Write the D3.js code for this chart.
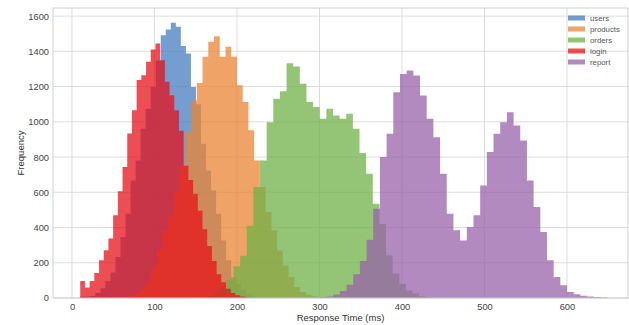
<!DOCTYPE html>
<html>
<head>
<meta charset="utf-8">
<script src="https://cdn.jsdelivr.net/npm/d3@7"></script>
<style>
  body { margin: 0; background: #fff; }
  text { font-family: "Liberation Sans", Arial, sans-serif; }
</style>
</head>
<body>
<svg id="chart" width="629" height="325"></svg>
<script>
// endpoints, in drawing order (later ones sit on top)
const endpoints = ["users", "products", "orders", "login", "report"];
const colors = ["#477cc0", "#eb8433", "#70b048", "#e6131b", "#9863ab"];

// left edge of the first bin and bin width, in ms
const binStart = [10, 61, 155.6, 10, 292.3];
const binWidth = [6.1, 6.95, 8.04, 5.7, 8.1];

// counts per bin
const usersCounts = [8, 8, 12, 30, 55, 95, 145, 233, 346, 478, 667, 781, 961, 1074, 1197, 1348,
  1492, 1524, 1562, 1540, 1430, 1388, 1198, 1100, 875, 724, 611, 478, 327, 214, 119, 80, 45, 25, 12, 6, 3, 2];
const productsCounts = [5, 10, 25, 45, 90, 170, 270, 380, 470, 600, 745, 941, 1121, 1221, 1369, 1454,
  1486, 1369, 1426, 1369, 1208, 1113, 952, 781, 630, 488, 384, 270, 185, 119, 62, 34, 18, 10, 5, 2];
const ordersCounts = [5, 12, 30, 55, 105, 180, 240, 410, 630, 781, 998, 1131, 1174, 1333, 1314, 1216,
  1112, 1084, 1017, 1074, 1036, 1017, 1046, 961, 823, 705, 535, 420, 242, 138, 81, 43, 25, 9, 4];
const loginCounts = [97, 59, 97, 142, 214, 271, 338, 470, 606, 744, 934, 1066, 1237, 1265, 1341, 1411,
  1445, 1350, 1227, 1151, 1065, 950, 750, 670, 592, 495, 390, 295, 210, 135, 90, 52, 28, 15, 8, 4, 2];
const reportCounts = [2, 4, 9, 20, 40, 75, 135, 210, 330, 507, 800, 932, 1168, 1272, 1291, 1263,
  1149, 1017, 913, 705, 478, 384, 327, 403, 469, 639, 828, 932, 998, 1055, 979, 894, 667, 516, 374,
  214, 119, 72, 34, 21, 13, 9, 5, 3];
const allCounts = [usersCounts, productsCounts, ordersCounts, loginCounts, reportCounts];

const xTicks = [0, 100, 200, 300, 400, 500, 600];
const yTicks = [0, 200, 400, 600, 800, 1000, 1200, 1400, 1600];

const plot = { left: 53, right: 628, top: 8, bottom: 298 };

const svg = d3.select("#chart");

const x = d3.scaleLinear().domain([-23, 674]).range([plot.left, plot.right]);
const y = d3.scaleLinear().domain([0, 1646]).range([plot.bottom, plot.top]);

// grid
svg.append("g")
  .selectAll("line.vx")
  .data(xTicks)
  .enter().append("line")
  .attr("x1", d => x(d)).attr("x2", d => x(d))
  .attr("y1", plot.top).attr("y2", plot.bottom)
  .attr("stroke", "#dcdcdc").attr("stroke-width", 1);

svg.append("g")
  .selectAll("line.hy")
  .data(yTicks)
  .enter().append("line")
  .attr("x1", plot.left).attr("x2", plot.right)
  .attr("y1", d => y(d)).attr("y2", d => y(d))
  .attr("stroke", "#dcdcdc").attr("stroke-width", 1);

// one step area per endpoint
const area = d3.area()
  .curve(d3.curveStepAfter)
  .x(d => x(d[0]))
  .y0(y(0))
  .y1(d => y(d[1]));

endpoints.forEach((name, i) => {
  const pts = allCounts[i].map((c, k) => [binStart[i] + k * binWidth[i], c]);
  pts.push([binStart[i] + allCounts[i].length * binWidth[i], 0]);
  svg.append("path")
    .datum(pts)
    .attr("d", area)
    .attr("fill", colors[i])
    .attr("fill-opacity", 0.75);
});

// frame
svg.append("rect")
  .attr("x", plot.left).attr("y", plot.top)
  .attr("width", plot.right - plot.left).attr("height", plot.bottom - plot.top)
  .attr("fill", "none").attr("stroke", "#cfcfcf").attr("stroke-width", 1);

// axes (labels only, no tick marks)
const xAxis = svg.append("g")
  .attr("transform", `translate(0,${plot.bottom})`)
  .call(d3.axisBottom(x).tickValues(xTicks).tickFormat(d3.format("d")).tickSize(0).tickPadding(5));
const yAxis = svg.append("g")
  .attr("transform", `translate(${plot.left},0)`)
  .call(d3.axisLeft(y).tickValues(yTicks).tickFormat(d3.format("d")).tickSize(0).tickPadding(4));
[xAxis, yAxis].forEach(g => {
  g.select(".domain").remove();
  g.selectAll("text")
    .style("font-family", '"Liberation Sans", Arial, sans-serif')
    .style("font-size", "9.3px")
    .attr("fill", "#444");
});

svg.append("text")
  .attr("x", (plot.left + plot.right) / 2)
  .attr("y", 321)
  .attr("text-anchor", "middle")
  .style("font-size", "9.5px")
  .attr("fill", "#333")
  .text("Response Time (ms)");

svg.append("text")
  .attr("transform", `translate(24,${(plot.top + plot.bottom) / 2}) rotate(-90)`)
  .attr("text-anchor", "middle")
  .style("font-size", "9.5px")
  .attr("fill", "#333")
  .text("Frequency");

// legend
const legend = svg.append("g").attr("transform", "translate(568,18)");
endpoints.forEach((name, i) => {
  const row = legend.append("g").attr("transform", `translate(0,${i * 11})`);
  row.append("rect")
    .attr("x", 0).attr("y", -2.5)
    .attr("width", 17).attr("height", 5)
    .attr("fill", colors[i]).attr("fill-opacity", 0.75);
  row.append("text")
    .attr("x", 22).attr("y", 0)
    .attr("dy", "0.35em")
    .style("font-size", "7.8px")
    .attr("fill", "#555")
    .text(name);
});
</script>
</body>
</html>
